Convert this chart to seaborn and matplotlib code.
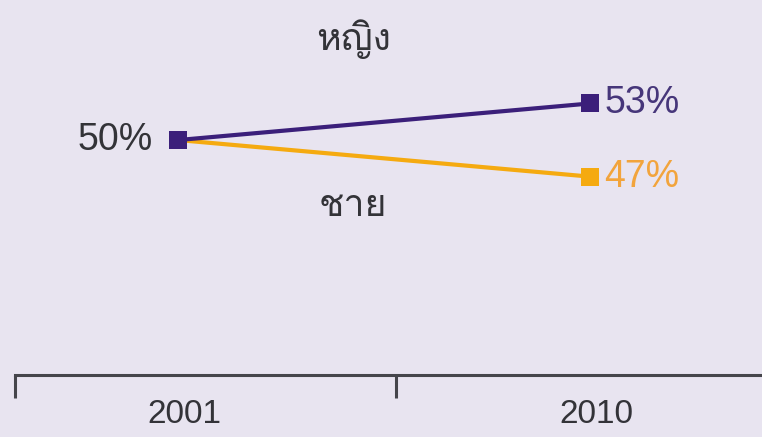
import numpy as np
import pandas as pd
import matplotlib.pyplot as plt
import matplotlib.transforms as mtransforms
import seaborn as sns
from matplotlib import font_manager, ft2font

# Data
years = ["2001", "2010"]
female = [50, 53]
male = [50, 47]
series_names = ["ชาย", "หญิง"]  # male, female

BG = "#E8E4F0"
PURPLE = "#3B1F7A"
ORANGE = "#F5AA10"
TEXT = "#333338"
AXIS = "#45454B"

# find an installed font that has Thai glyphs (fallback after Liberation Sans)
thai_family = None
for f in font_manager.fontManager.ttflist:
    try:
        if 0x0E0D in ft2font.FT2Font(f.fname).get_charmap():
            thai_family = f.name
            break
    except Exception:
        pass

sns.set_style("white")
families = ["Liberation Sans"]
if thai_family:
    families.append(thai_family)
families.append("DejaVu Sans")
plt.rcParams["font.family"] = families

pos = np.arange(len(years))
df = pd.DataFrame({
    "x": np.concatenate([pos, pos]),
    "value": male + female,
    "sex": [series_names[0]] * len(years) + [series_names[1]] * len(years),
})

fig = plt.figure(figsize=(7.62, 4.37), dpi=100)
fig.patch.set_facecolor(BG)
ax = fig.add_axes([15 / 762, 62 / 437, 1 - 15 / 762, 375 / 437])
ax.set_facecolor(BG)

sns.lineplot(data=df, x="x", y="value", hue="sex",
             palette={series_names[0]: ORANGE, series_names[1]: PURPLE},
             marker="s", markersize=12.5, markeredgewidth=0, linewidth=3,
             legend=False, ax=ax)

ax.set_xlim(-0.396, 1.417)
ax.set_ylim(30.74, 61.48)

# axis styling
for s in ["top", "left", "right"]:
    ax.spines[s].set_visible(False)
ax.spines["bottom"].set_linewidth(2.2)
ax.spines["bottom"].set_color(AXIS)
ax.set_yticks([])
ax.set_xticks(pos)
ax.set_xticklabels(years, fontsize=24, color=TEXT)
ax.tick_params(axis="x", which="major", bottom=True, length=0, pad=17)
ax.set_xticks([-0.396, 0.529], minor=True)
ax.tick_params(axis="x", which="minor", bottom=True, length=16.5, width=2.2,
               color=AXIS, direction="out")
shift = mtransforms.ScaledTranslation(6 / 100, 0, fig.dpi_scale_trans)
for lab in ax.get_xticklabels():
    lab.set_transform(lab.get_transform() + shift)
ax.set_xlabel("")
ax.set_ylabel("")

# value labels
ax.annotate(f"{female[0]}%", (pos[0], female[0]), xytext=(-18, 0), textcoords="offset points",
            ha="right", va="center", fontsize=27, color=TEXT)
ax.annotate(f"{female[1]}%", (pos[1], female[1]), xytext=(10, 0), textcoords="offset points",
            ha="left", va="center", fontsize=27, color="#46367A")
ax.annotate(f"{male[1]}%", (pos[1], male[1]), xytext=(10, 0), textcoords="offset points",
            ha="left", va="center", fontsize=27, color="#F2A43C")

# series names
ax.text(0.425, 58.3, series_names[1], ha="center", va="center", fontsize=27, color=TEXT)
ax.text(0.425, 44.6, series_names[0], ha="center", va="center", fontsize=27, color=TEXT)

fig.savefig("out.png", dpi=100, facecolor=BG)
